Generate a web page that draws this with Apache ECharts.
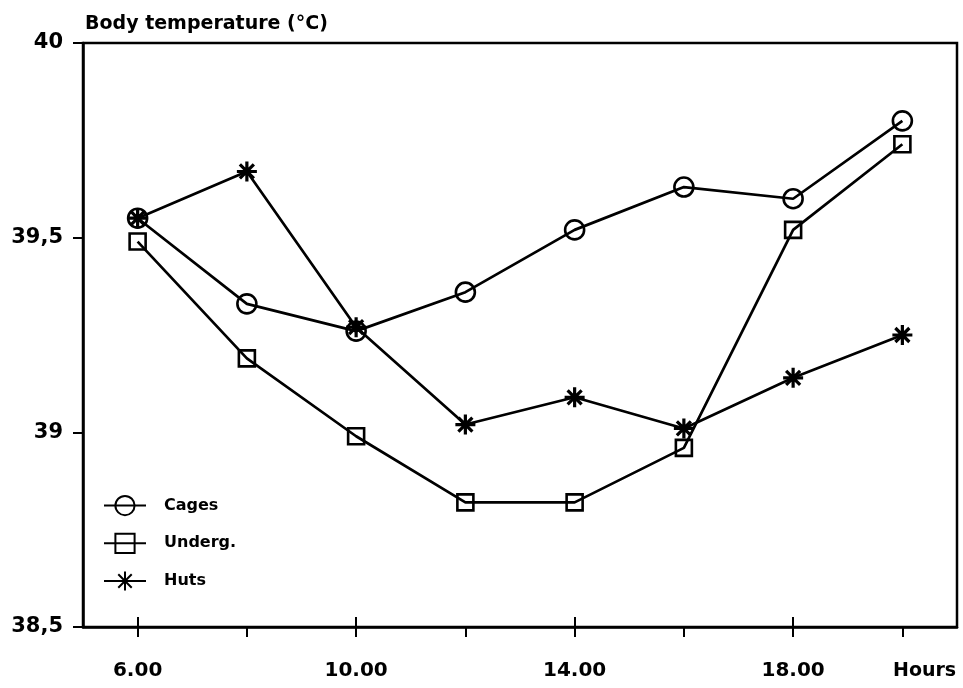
<!DOCTYPE html>
<html>
<head>
<meta charset="utf-8">
<script src="https://cdn.jsdelivr.net/npm/echarts@6/dist/echarts.min.js"></script>
<style>html,body{margin:0;padding:0;background:#fff}#c{width:963px;height:688px}</style>
</head>
<body>
<div id="c"></div>
<script>
var hours = [6, 8, 10, 12, 14, 16, 18, 20];
var cages = [39.55, 39.33, 39.26, 39.36, 39.52, 39.63, 39.60, 39.80];
var underg = [39.49, 39.19, 38.99, 38.82, 38.82, 38.96, 39.52, 39.74];
var huts = [39.55, 39.67, 39.27, 39.02, 39.09, 39.01, 39.14, 39.25];
var tickHours = [6, 8, 10, 12, 14, 16, 18, 20];
var labelHours = [6, 10, 14, 18];
var yTicks = [38.5, 39, 39.5, 40];

function pairs(vals) { return hours.map(function (h, i) { return [h, vals[i]]; }); }

var FONT = 'DejaVu Sans';
var star = 'path://M10,0 L10,20 M0,10 L20,10 M3,3 L17,17 M3,17 L17,3';

var chart = echarts.init(document.getElementById('c'));
function mkSeries(name, vals, symbol, size) {
  var isStar = symbol === star;
  return {
    name: name, type: 'line', data: pairs(vals), xAxisIndex: 0,
    symbol: symbol, symbolSize: size, showAllSymbol: true,
    lineStyle: { color: '#000', width: 2.7 },
    itemStyle: { color: isStar ? '#000' : 'rgba(0,0,0,0)', borderColor: '#000', borderWidth: isStar ? 3.2 : 2.6 },
    emphasis: { disabled: true }
  };
}
chart.setOption({
  animation: false,
  backgroundColor: '#fff',
  title: {
    text: 'Body temperature (°C)', left: 80, top: 10,
    textStyle: { fontFamily: FONT, fontWeight: 'bold', fontSize: 19, color: '#000' }
  },
  grid: { left: 83, right: 6, top: 43, bottom: 61, show: true, borderColor: '#000', borderWidth: 2.5, backgroundColor: 'transparent' },
  legend: {
    orient: 'vertical', left: 103, top: 495, padding: 0, itemWidth: 42, itemHeight: 24, itemGap: 16.5,
    data: ['Cages', 'Underg.', 'Huts'],
    textStyle: { fontFamily: FONT, fontWeight: 'bold', fontSize: 16, color: '#000', padding: [0, 0, 0, 13] }
  },
  xAxis: [{
    type: 'value', min: 5, max: 21, position: 'bottom',
    axisLine: { lineStyle: { color: '#000', width: 2.5 } },
    axisTick: { show: true, length: 10, customValues: tickHours, lineStyle: { color: '#000', width: 2 } },
    axisLabel: { customValues: labelHours, margin: 34, fontFamily: FONT, fontWeight: 'bold', fontSize: 20, color: '#000',
      formatter: function (v) { return v.toFixed(2); } },
    splitLine: { show: false },
    name: 'Hours', nameLocation: 'end', nameGap: -64,
    nameTextStyle: { fontFamily: FONT, fontWeight: 'bold', fontSize: 19, color: '#000', align: 'left', verticalAlign: 'top', padding: [35, 0, 0, 0] }
  }, {
    type: 'value', min: 5, max: 21, position: 'bottom',
    axisLine: { show: false },
    axisTick: { show: true, inside: true, length: 10, customValues: labelHours, lineStyle: { color: '#000', width: 2 } },
    axisLabel: { show: false }, splitLine: { show: false }
  }],
  yAxis: {
    type: 'value', min: 38.5, max: 40, interval: 0.5,
    axisLine: { show: true, lineStyle: { color: '#000', width: 2.5 } },
    axisTick: { show: true, length: 10, customValues: yTicks, lineStyle: { color: '#000', width: 2 } },
    axisLabel: { customValues: yTicks, margin: 20, fontFamily: FONT, fontWeight: 'bold', fontSize: 21, color: '#000',
      formatter: function (v) { return String(v).replace('.', ','); } },
    splitLine: { show: false }
  },
  series: [
    mkSeries('Cages', cages, 'circle', 19),
    mkSeries('Underg.', underg, 'rect', 16),
    mkSeries('Huts', huts, star, 20)
  ]
});
</script>
</body>
</html>
